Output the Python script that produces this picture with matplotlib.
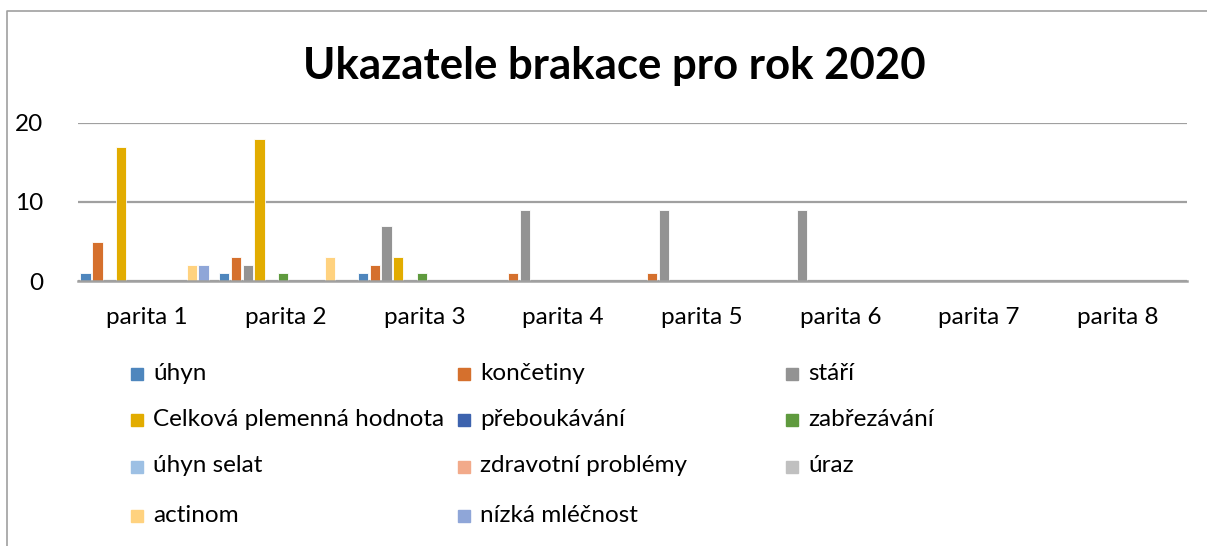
import numpy as np
import matplotlib.pyplot as plt
from matplotlib.patches import Rectangle
from matplotlib.lines import Line2D

plt.rcParams['font.family'] = ['Lato', 'DejaVu Sans']

categories = ['parita 1', 'parita 2', 'parita 3', 'parita 4',
              'parita 5', 'parita 6', 'parita 7', 'parita 8']

series_names = ['úhyn', 'končetiny', 'stáří', 'Celková plemenná hodnota',
                'přeboukávání', 'zabřezávání', 'úhyn selat',
                'zdravotní problémy', 'úraz', 'actinom', 'nízká mléčnost']

uhyn = [1, 1, 1, 0, 0, 0, 0, 0]
koncetiny = [5, 3, 2, 1, 1, 0, 0, 0]
stari = [0, 2, 7, 9, 9, 9, 0, 0]
celkova_ph = [17, 18, 3, 0, 0, 0, 0, 0]
preboukavani = [0, 0, 0, 0, 0, 0, 0, 0]
zabrezavani = [0, 1, 1, 0, 0, 0, 0, 0]
uhyn_selat = [0, 0, 0, 0, 0, 0, 0, 0]
zdravotni = [0, 0, 0, 0, 0, 0, 0, 0]
uraz = [0, 0, 0, 0, 0, 0, 0, 0]
actinom = [2, 3, 0, 0, 0, 0, 0, 0]
nizka_mlecnost = [2, 0, 0, 0, 0, 0, 0, 0]

values = [uhyn, koncetiny, stari, celkova_ph, preboukavani, zabrezavani,
          uhyn_selat, zdravotni, uraz, actinom, nizka_mlecnost]

colors = ['#4E86BD', '#D5702D', '#939393', '#E2AC00', '#3D63AE', '#5F9A3E',
          '#9DC0E4', '#F2AA8A', '#C0C0C0', '#FFD27F', '#8FA6D8']

W, H = 1207, 546
fig = plt.figure(figsize=(W / 100, H / 100), dpi=100)
ax = fig.add_axes([78 / W, 1 - 281 / H, (1187 - 78) / W, (281 - 123) / H])

x = np.arange(len(categories))
slot = 0.085
for i, (vals, c) in enumerate(zip(values, colors)):
    ax.bar(x + (i - 5) * slot - 0.02, vals, width=0.074, color=c,
           edgecolor='white', linewidth=0.6, zorder=3)

ax.set_xlim(-0.5, len(categories) - 0.5)
ax.set_ylim(0, 20)
ax.set_yticks([0, 10, 20])
ax.yaxis.grid(True, color='#A0A0A0', linewidth=1.6, zorder=0)
for s in ['top', 'right', 'left']:
    ax.spines[s].set_visible(False)
ax.spines['bottom'].set_color('#A0A0A0')
ax.spines['bottom'].set_linewidth(1.8)
ax.spines['bottom'].set_zorder(4)
ax.set_xticks(x)
ax.set_xticklabels(categories)
ax.tick_params(axis='both', length=0, labelsize=17.5, colors='black')
ax.tick_params(axis='y', pad=25)
ax.tick_params(axis='x', pad=19)

fig.text(0.509, 1 - 66 / H, 'Ukazatele brakace pro rok 2020',
         ha='center', va='center', fontsize=31.5, fontweight='bold')

# legend laid out like Excel, row by row
col_x = [131, 458, 786]
row_y = [374, 420, 467, 516]
for i, (name, c) in enumerate(zip(series_names, colors)):
    r, k = divmod(i, 3)
    fig.add_artist(Rectangle(((col_x[k]) / W, 1 - (row_y[r] + 6) / H),
                             12 / W, 12 / H, color=c, transform=fig.transFigure))
    fig.text((col_x[k] + 22) / W, 1 - (row_y[r] - 1) / H, name,
             ha='left', va='center', fontsize=17.5)

# outer chart frame (left and top edges visible)
fig.add_artist(Line2D([7 / W, 7 / W, 1.0], [0.0, 1 - 11 / H, 1 - 11 / H],
                      color='#A0A0A0', linewidth=1.2, transform=fig.transFigure))

fig.savefig('out.png', dpi=100)
